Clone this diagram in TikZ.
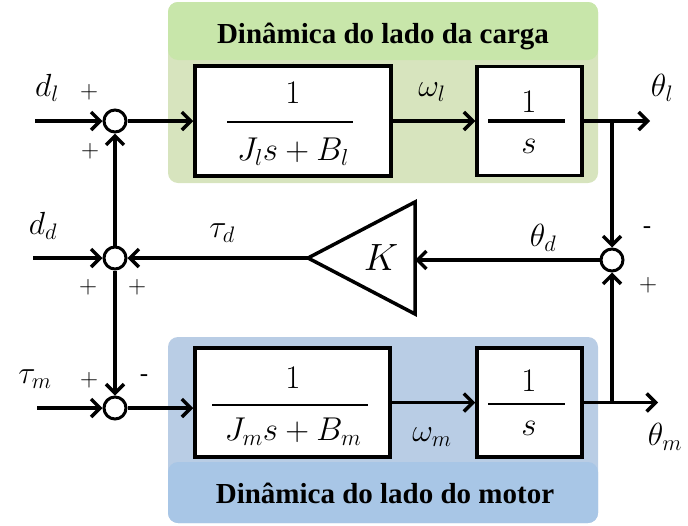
\RequirePackage{fix-cm}
\documentclass[tikz,border=0pt]{standalone}
\usepackage{fontspec}
\setmainfont{Liberation Serif}
\usetikzlibrary{arrows.meta}
\definecolor{grhi}{HTML}{C8E6AA}
\definecolor{grlo}{HTML}{D7E4BE}
\definecolor{blhi}{HTML}{A8C6E6}
\definecolor{bllo}{HTML}{B9CDE5}
\begin{document}
\begin{tikzpicture}[x=1pt,y=-1pt,
  sig/.style={line width=3.5pt,-{Straight Barb[length=9pt,width=18pt]}},
  blk/.style={draw,line width=3.5pt,fill=white,inner sep=0pt},
  sumnode/.style={draw,circle,line width=3pt,fill=white,minimum size=22pt,inner sep=0pt},
  lbl/.style={inner sep=0pt,font=\fontsize{32}{34}\selectfont},
  sgn/.style={inner sep=0pt,font=\fontsize{25}{27}\selectfont},
  frac/.style={inner sep=0pt,font=\fontsize{33}{35}\selectfont},
  hdr/.style={inner sep=0pt,font=\fontsize{29}{32}\selectfont\bfseries},
]
\useasboundingbox (0,0) rectangle (688,525);
% regions
\fill[grlo,rounded corners=10pt] (168,2) rectangle (598,183);
\fill[grhi,rounded corners=10pt] (168,2) rectangle (598,60);
\node[hdr,anchor=base] (H1) at (383,43) {Dinâmica do lado da carga};
\fill[bllo,rounded corners=10pt] (168,337) rectangle (598,523);
\fill[blhi,rounded corners=10pt] (168,462) rectangle (598,523);
\node[hdr,anchor=base] (H2) at (385,503) {Dinâmica do lado do motor};
% blocks
\node[blk,minimum width=196pt,minimum height=110pt] (G1) at (293,121) {};
\node[blk,minimum width=105pt,minimum height=109pt] (G2) at (529.5,121) {};
\node[blk,minimum width=195pt,minimum height=109pt] (G3) at (292.5,402.5) {};
\node[blk,minimum width=105pt,minimum height=109pt] (G4) at (529.5,402.5) {};
% fractions
\node[frac] (n1) at (293,93) {$1$};
\draw[line width=2.5pt] (227,122) -- (353,122);
\node[frac] (d1) at (293,152) {$J_ls+B_l$};
\node[frac] (n2) at (529,102) {$1$};
\draw[line width=3.5pt] (488,121) -- (565,121);
\node[frac] (d2) at (529,146) {$s$};
\node[frac] (n3) at (293,378) {$1$};
\draw[line width=2.5pt] (212,405) -- (368,405);
\node[frac] (d3) at (293,432) {$J_ms+B_m$};
\node[frac] (n4) at (529,381) {$1$};
\draw[line width=2.5pt] (488,404) -- (565,404);
\node[frac] (d4) at (529,428) {$s$};
% summing junctions
\node[sumnode] (S1) at (115,121) {};
\node[sumnode] (S2) at (115,258) {};
\node[sumnode] (S3) at (115,408) {};
\node[sumnode] (S4) at (612,260) {};
% gain
\draw[line width=3.5pt,line join=miter] (308,258) -- (415,202) -- (415,314) -- cycle;
\coordinate (Kt) at (308,258);
\coordinate (Kr) at (415,260);
\node[inner sep=0pt,font=\fontsize{38}{40}\selectfont] (K) at (381,258) {$K$};
% coordinates
\coordinate (I1) at (35,121);
\coordinate (I2) at (33,258);
\coordinate (I3) at (37,408);
\coordinate (B1) at (612,121);
\coordinate (B2) at (612,402.5);
\coordinate (Ol) at (650,121);
\coordinate (Om) at (658,402.5);
% wires
\draw[sig] (I1) -- (S1);
\draw[sig] (S1) -- (S1 -| G1.west);
\draw[sig] (G1.east) -- (G2.west);
\draw[sig] (G2.east) -- (Ol);
\draw[sig] (B1) -- (S4);
\draw[sig] (S4) -- (Kr);
\draw[sig] (Kt) -- (S2);
\draw[sig] (I2) -- (S2);
\draw[sig] (S2) -- (S1);
\draw[sig] (S2) -- (S3);
\draw[sig] (I3) -- (S3);
\draw[sig] (S3) -- (S3 -| G3.west);
\draw[sig] (G3.east) -- (G4.west);
\draw[sig] (G4.east) -- (Om);
\draw[sig] (B2) -- (S4);
% labels
\node[lbl] (Ldl) at (47,88) {$d_l$};
\node[lbl] (Ldd) at (43,226) {$d_d$};
\node[lbl] (Ltm) at (35,379) {$\tau_m$};
\node[lbl] (Lthl) at (662,88) {$\theta_l$};
\node[lbl] (Lthd) at (543,238) {$\theta_d$};
\node[lbl] (Lthm) at (665,437) {$\theta_m$};
\node[lbl] (Lwl) at (432,92) {$\omega_l$};
\node[lbl] (Lwm) at (432,437) {$\omega_m$};
\node[lbl] (Ltd) at (222,233) {$\tau_d$};
% signs
\node[sgn] (p1) at (89,92) {$+$};
\node[sgn] (p2) at (90,151) {$+$};
\node[sgn] (p3) at (88,287) {$+$};
\node[sgn] (p4) at (137,287) {$+$};
\node[sgn] (p5) at (89,380) {$+$};
\node[sgn] (m1) at (144,378) {-};
\node[sgn] (m2) at (647,230) {-};
\node[sgn] (p6) at (648,285) {$+$};
\end{tikzpicture}
\end{document}
